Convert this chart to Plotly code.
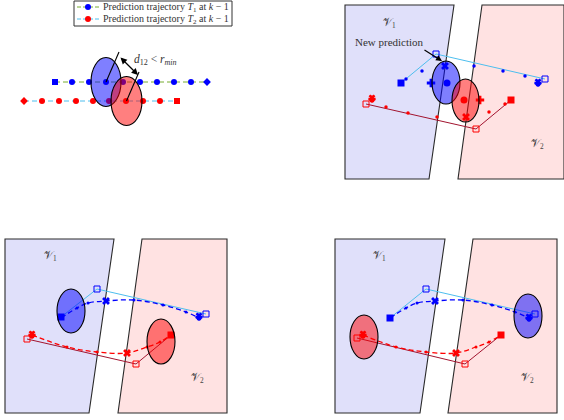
import plotly.graph_objects as go

W, H = 564, 420
BLUE, RED = "#0000FF", "#FF0000"
SKY, DRED, GREEN = "#4DBEEE", "#A2142F", "#77AC30"
V1_FILL, V2_FILL = "#E0E0FA", "#FFE2E2"
EL_BLUE, EL_RED = "rgba(0,0,255,0.5)", "rgba(255,0,0,0.5)"
FONT = "Liberation Serif"

# ---------------- Panel 1 : predictions at k-1 ----------------
p1_t1_x = [55, 72, 89, 106, 123, 140, 157, 174, 191, 207]
p1_t1_y = [82, 82, 82, 82, 82, 82, 82, 82, 82, 82]
p1_t1_sym = ["square"] + ["circle"] * 8 + ["diamond"]
p1_t2_x = [24, 42, 59, 76, 93, 109, 126, 143, 160, 177]
p1_t2_y = [101, 101, 101, 101, 101, 101, 101, 101, 101, 101]
p1_t2_sym = ["diamond"] + ["circle"] * 8 + ["square"]
p1_ellipses = [(106, 82, 15, 24.5, EL_BLUE), (126.5, 101, 15.5, 24.5, EL_RED)]
p1_radius_lines = [((106, 82), (119, 52)), ((126.5, 101), (139, 72))]
p1_dist_arrow = ((119, 56), (138, 75))
legend_box = (74, 1, 232, 26)
legend_rows = [
    (7, GREEN, BLUE, "Prediction trajectory <i>T</i><sub>1</sub> at <i>k</i> − 1"),
    (19, SKY, RED, "Prediction trajectory <i>T</i><sub>2</sub> at <i>k</i> − 1"),
]

# ---------------- Regions (V1 / V2) ----------------
regions = [
    ([345, 454, 429, 345], [5, 5, 179, 179], V1_FILL),
    ([482, 564, 564, 458], [5, 5, 179, 179], V2_FILL),
    ([5, 114, 89, 5], [239, 239, 413, 413], V1_FILL),
    ([142, 227, 227, 118], [239, 239, 413, 413], V2_FILL),
    ([335, 445, 420, 335], [239, 239, 413, 413], V1_FILL),
    ([473, 557, 557, 448], [239, 239, 413, 413], V2_FILL),
]
region_labels = [
    (389, 23, "1"), (537, 144, "2"),
    (50, 256, "1"), (197, 378, "2"),
    (379, 256, "1"), (527, 378, "2"),
]

# ---------------- Panel 2 : new prediction ----------------
p2_sky_x = [401, 436, 545]
p2_sky_y = [83, 54, 79]
p2_bdots_x = [406, 422, 474, 503, 525]
p2_bdots_y = [79, 71, 66, 71, 76]
p2_dred_x = [511, 476, 366]
p2_dred_y = [100, 129, 104]
p2_rdots_x = [386, 408, 437, 489, 505]
p2_rdots_y = [107, 113, 117, 112, 104]
p2_blue_marks = [(431, 83, "cross"), (447, 83, "circle"), (445, 66, "x")]
p2_red_marks = [(464, 100, "circle"), (480, 100, "cross"), (466, 117, "x")]
p2_clusters = [(538, 83, BLUE), (372, 99, RED)]
p2_ellipses = [(446, 82.5, 14, 21.5, EL_BLUE), (465.5, 100.5, 13.5, 21.5, EL_RED)]

# ---------------- Panel 3 ----------------
p3_sky_x = [61, 97, 206]
p3_sky_y = [317, 289, 314]
p3_bdash_x = [61, 77, 88, 106, 134, 163, 186, 199]
p3_bdash_y = [318, 308, 303, 301, 300, 305, 312, 318]
p3_dred_x = [27, 136, 171]
p3_dred_y = [339, 364, 335]
p3_rdash_x = [32, 67, 97, 127, 147, 160, 171]
p3_rdash_y = [335, 347, 352, 353, 347, 342, 335]
p3_xmarks = [(106, 301, BLUE), (127, 353, RED)]
p3_clusters = [(199, 317, BLUE), (32, 335, RED)]
p3_ellipses = [(71, 311, 14, 22, EL_BLUE), (161, 341.5, 14, 22.5, EL_RED)]

# ---------------- Panel 4 ----------------
p4_sky_x = [390, 426, 535]
p4_sky_y = [318, 289, 314]
p4_bdash_x = [390, 406, 417, 435, 463, 492, 515, 529]
p4_bdash_y = [318, 308, 303, 301, 300, 305, 312, 318]
p4_dred_x = [357, 465, 501]
p4_dred_y = [338, 364, 335]
p4_rdash_x = [363, 396, 426, 456, 476, 489, 501]
p4_rdash_y = [335, 347, 352, 353, 347, 342, 335]
p4_xmarks = [(435, 301, BLUE), (456, 353, RED)]
p4_clusters = [(529, 318, BLUE), (363, 335, RED)]
p4_ellipses = [(528, 316, 14, 22, EL_BLUE), (364, 337, 14, 22, EL_RED)]

fig = go.Figure()
shapes = []
annotations = []


def sc(x, y, **kw):
    fig.add_trace(go.Scatter(x=x, y=y, showlegend=False, hoverinfo="skip", **kw))


# regions (below traces)
for xs, ys, fill in regions:
    path = "M " + " L ".join(f"{a},{b}" for a, b in zip(xs, ys)) + " Z"
    shapes.append(dict(type="path", path=path, xref="x", yref="y", layer="below",
                       fillcolor=fill, line=dict(color="#2a2a2a", width=1.1)))

# panel 1
sc(p1_t1_x, p1_t1_y, mode="lines+markers", line=dict(color=GREEN, width=1, dash="5px,3px"),
   marker=dict(color=BLUE, size=6, symbol=p1_t1_sym, line=dict(width=0)))
sc(p1_t2_x, p1_t2_y, mode="lines+markers", line=dict(color=SKY, width=1, dash="5px,3px"),
   marker=dict(color=RED, size=6, symbol=p1_t2_sym, line=dict(width=0)))
x0, y0, x1, y1 = legend_box
shapes.append(dict(type="rect", x0=x0, y0=y0, x1=x1, y1=y1, xref="x", yref="y",
                   line=dict(color="#333", width=1), fillcolor="white", layer="below"))
for yy, lc, mc, txt in legend_rows:
    sc([77, 100], [yy, yy], mode="lines", line=dict(color=lc, width=1, dash="4px,2px"))
    sc([88], [yy], mode="markers", marker=dict(color=mc, size=6, line=dict(width=0)))
    annotations.append(dict(x=101, y=yy, text=txt, showarrow=False, xanchor="left",
                            yanchor="middle", font=dict(family=FONT, size=10, color="#333")))

# panel 2
sc(p2_sky_x, p2_sky_y, mode="lines", line=dict(color=SKY, width=1))
sc(p2_sky_x[1:], p2_sky_y[1:], mode="markers",
   marker=dict(symbol="square-open", color=BLUE, size=6, line=dict(width=1)))
sc(p2_sky_x[:1], p2_sky_y[:1], mode="markers", marker=dict(symbol="square", color=BLUE, size=7))
sc(p2_bdots_x, p2_bdots_y, mode="markers", marker=dict(color=BLUE, size=3.5))
sc(p2_dred_x, p2_dred_y, mode="lines", line=dict(color=DRED, width=1))
sc(p2_dred_x[1:], p2_dred_y[1:], mode="markers",
   marker=dict(symbol="square-open", color=RED, size=6, line=dict(width=1)))
sc(p2_dred_x[:1], p2_dred_y[:1], mode="markers", marker=dict(symbol="square", color=RED, size=7))
sc(p2_rdots_x, p2_rdots_y, mode="markers", marker=dict(color=RED, size=3.5))
for mx, my, sym in p2_blue_marks:
    sc([mx], [my], mode="markers", marker=dict(symbol=sym, color=BLUE, size=7, line=dict(width=0)))
for mx, my, sym in p2_red_marks:
    sc([mx], [my], mode="markers", marker=dict(symbol=sym, color=RED, size=7, line=dict(width=0)))


def cluster(cx, cy, col):
    for sym, sz, dy in (("circle", 5, 1), ("cross", 6, 0), ("x", 6, -1)):
        sc([cx], [cy + dy], mode="markers",
           marker=dict(symbol=sym, color=col, size=sz, line=dict(width=0)))


for cx, cy, col in p2_clusters:
    cluster(cx, cy, col)


def panel(sky_x, sky_y, bdx, bdy, dr_x, dr_y, rdx, rdy, xmarks, clusters):
    sc(sky_x, sky_y, mode="lines", line=dict(color=SKY, width=1))
    sc(sky_x[1:], sky_y[1:], mode="markers",
       marker=dict(symbol="square-open", color=BLUE, size=6, line=dict(width=1)))
    sc(bdx, bdy, mode="lines+markers", line=dict(color=BLUE, width=1.3, dash="5px,3px", shape="spline"),
       marker=dict(color=BLUE, size=3))
    sc(sky_x[:1], sky_y[:1], mode="markers", marker=dict(symbol="square", color=BLUE, size=7))
    sc(dr_x, dr_y, mode="lines", line=dict(color=DRED, width=1))
    sc(dr_x[:2], dr_y[:2], mode="markers",
       marker=dict(symbol="square-open", color=RED, size=6, line=dict(width=1)))
    sc(rdx, rdy, mode="lines+markers", line=dict(color=RED, width=1.3, dash="5px,3px", shape="spline"),
       marker=dict(color=RED, size=3))
    sc(dr_x[2:], dr_y[2:], mode="markers", marker=dict(symbol="square", color=RED, size=7))
    for mx, my, col in xmarks:
        sc([mx], [my], mode="markers", marker=dict(symbol="x", color=col, size=7, line=dict(width=0)))
    for cx, cy, col in clusters:
        cluster(cx, cy, col)


panel(p3_sky_x, p3_sky_y, p3_bdash_x, p3_bdash_y, p3_dred_x, p3_dred_y,
      p3_rdash_x, p3_rdash_y, p3_xmarks, p3_clusters)
panel(p4_sky_x, p4_sky_y, p4_bdash_x, p4_bdash_y, p4_dred_x, p4_dred_y,
      p4_rdash_x, p4_rdash_y, p4_xmarks, p4_clusters)

# ellipses (above traces)
for cx, cy, rx, ry, col in p1_ellipses + p2_ellipses + p3_ellipses + p4_ellipses:
    shapes.append(dict(type="circle", xref="x", yref="y", x0=cx - rx, x1=cx + rx,
                       y0=cy - ry, y1=cy + ry, fillcolor=col, layer="above",
                       line=dict(color="black", width=1.1)))
for (ax_, ay_), (bx_, by_) in p1_radius_lines:
    shapes.append(dict(type="line", xref="x", yref="y", x0=ax_, y0=ay_, x1=bx_, y1=by_,
                       layer="above", line=dict(color="black", width=1.1)))

# arrows & texts
(a0, b0), (a1, b1) = p1_dist_arrow
annotations.append(dict(x=a1, y=b1, ax=a0, ay=b0, xref="x", yref="y", axref="x", ayref="y",
                        text="", showarrow=True, arrowside="end+start", arrowhead=2,
                        arrowsize=1, arrowwidth=1.3, arrowcolor="black"))
annotations.append(dict(x=155, y=60, text="<i>d</i><sub>12</sub> &lt; <i>r<sub>min</sub></i>",
                        showarrow=False, font=dict(family=FONT, size=11.5, color="#333")))
annotations.append(dict(x=442, y=61, ax=423, ay=49, xref="x", yref="y", axref="x", ayref="y",
                        text="", showarrow=True, arrowhead=2, arrowsize=1, arrowwidth=1.2,
                        arrowcolor="black"))
annotations.append(dict(x=389, y=42, text="New prediction", showarrow=False,
                        font=dict(family=FONT, size=11, color="#333")))
for lx, ly, sub in region_labels:
    annotations.append(dict(x=lx, y=ly, text=f"𝒱<sub>{sub}</sub>", showarrow=False,
                            font=dict(family=FONT, size=10.5, color="#444")))

fig.update_layout(
    width=W, height=H, margin=dict(l=0, r=0, t=0, b=0),
    paper_bgcolor="white", plot_bgcolor="white", showlegend=False,
    xaxis=dict(range=[0, W], visible=False, fixedrange=True),
    yaxis=dict(range=[H, 0], visible=False, fixedrange=True),
    shapes=shapes, annotations=annotations,
)
fig.write_html("out.html", config={"displayModeBar": False})
